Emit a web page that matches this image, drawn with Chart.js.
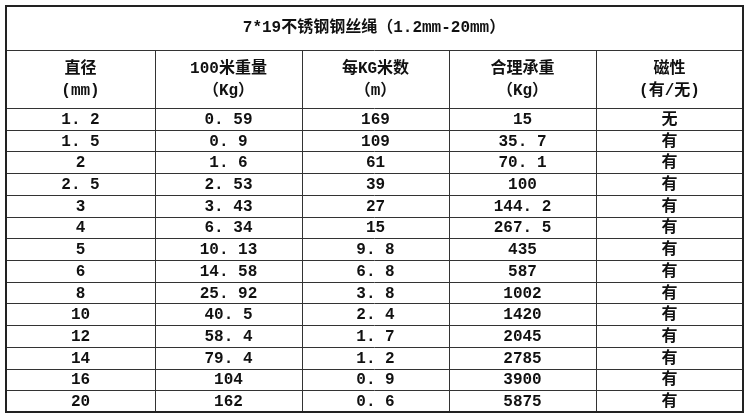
<!DOCTYPE html>
<html><head><meta charset="utf-8">
<script src="https://cdn.jsdelivr.net/npm/chart.js"></script>
<style>html,body{margin:0;background:#fff}#w{width:750px;height:417px}</style>
</head><body><div id="w"><canvas id="c"></canvas></div>
<script>
const title = "7*19不锈钢钢丝绳（1.2mm-20mm）";
const headers = [["直径","(mm)"],["100米重量","（Kg）"],["每KG米数","（m）"],["合理承重","（Kg）"],["磁性","(有/无)"]];
const diameters = ["1.2","1.5","2","2.5","3","4","5","6","8","10","12","14","16","20"];
const weight100m = ["0.59","0.9","1.6","2.53","3.43","6.34","10.13","14.58","25.92","40.5","58.4","79.4","104","162"];
const metersPerKg = ["169","109","61","39","27","15","9.8","6.8","3.8","2.4","1.7","1.2","0.9","0.6"];
const load = ["15","35.7","70.1","100","144.2","267.5","435","587","1002","1420","2045","2785","3900","5875"];
const magnetic = ["无","有","有","有","有","有","有","有","有","有","有","有","有","有"];
const columns = [diameters, weight100m, metersPerKg, load, magnetic];
const rowH = 21.7, titleH = 44, headH = 58;
const colEdges = [0, 149, 296, 443, 590, 737];
const tablePlugin = {
  id:'table',
  afterDraw(chart){
    const {ctx, scales:{x,y}} = chart;
    const X = v=>x.getPixelForValue(v), Y = v=>y.getPixelForValue(v);
    const bottom = titleH+headH+rowH*diameters.length;
    ctx.save();
    ctx.strokeStyle='#333'; ctx.lineWidth=1;
    const hl=(v)=>{ctx.beginPath();ctx.moveTo(X(0),Math.round(Y(v))+0.5);ctx.lineTo(X(737),Math.round(Y(v))+0.5);ctx.stroke();};
    hl(titleH); hl(titleH+headH);
    for(let i=1;i<diameters.length;i++) hl(titleH+headH+rowH*i);
    for(let i=1;i<colEdges.length-1;i++){ctx.beginPath();const px=Math.round(X(colEdges[i]))+0.5;ctx.moveTo(px,Y(titleH));ctx.lineTo(px,Y(bottom));ctx.stroke();}
    ctx.lineWidth=2; ctx.strokeStyle='#222';
    ctx.strokeRect(X(0),Y(0),X(737)-X(0),Y(bottom)-Y(0));
    ctx.fillStyle='#111'; ctx.textAlign='center'; ctx.textBaseline='middle';
    ctx.font='bold 16px "Liberation Mono","Noto Sans CJK SC"';
    ctx.fillText(title, X(368), Y(titleH/2));
    headers.forEach((h,i)=>{
      const cx=X((colEdges[i]+colEdges[i+1])/2);
      ctx.fillText(h[0],cx,Y(titleH+19)); ctx.fillText(h[1],cx,Y(titleH+41));
    });
    columns.forEach((col,i)=>{
      const cx=X((colEdges[i]+colEdges[i+1])/2);
      col.forEach((v,r)=>ctx.fillText(v.replace(/\./g,". "),cx,Y(titleH+headH+rowH*(r+0.5))+1));
    });
    ctx.restore();
  }
};
new Chart(document.getElementById('c'),{
  type:'scatter',
  data:{datasets:[{data:[]}]},
  options:{responsive:true,maintainAspectRatio:false,animation:false,
    layout:{padding:{left:6,right:7,top:6,bottom:5}},
    plugins:{legend:{display:false},tooltip:{enabled:false}},
    scales:{x:{type:'linear',min:0,max:737,display:false},
            y:{type:'linear',min:0,max:titleH+headH+rowH*14,reverse:true,display:false}}},
  plugins:[tablePlugin]
});
</script></body></html>
